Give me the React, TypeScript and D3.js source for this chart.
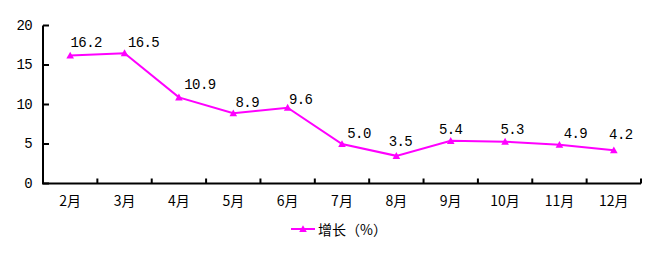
import React from "react";
import * as d3 from "d3";

const categories = ["2月", "3月", "4月", "5月", "6月", "7月", "8月", "9月", "10月", "11月", "12月"];
const values = [16.2, 16.5, 10.9, 8.9, 9.6, 5.0, 3.5, 5.4, 5.3, 4.9, 4.2];
const valueLabels = ["16.2", "16.5", "10.9", "8.9", "9.6", "5.0", "3.5", "5.4", "5.3", "4.9", "4.2"];
const yTicks = [0, 5, 10, 15, 20];
const seriesName = "增长（%）";
// label offsets relative to points (manually placed labels in the original)
const labelDx = [16, 19, 21, 14, 13, 17, 4, 0, 7, 16, 7];
const labelDy = [12.5, 10, 12.4, 10, 7.7, 10, 14, 11, 11.6, 10.5, 15];

const W = 660, H = 253;
const M = { left: 43, right: 641, top: 25.5, bottom: 183.5 };
const COLOR = "#FF00FF";
const MONO = "'Liberation Mono', 'DejaVu Sans Mono', monospace";
const CJK = "'Noto Sans CJK SC', sans-serif";

function tri(cx: number, cy: number, s = 3.8) {
  return `M${cx},${cy - s} L${cx + s},${cy + s * 0.8} L${cx - s},${cy + s * 0.8} Z`;
}

export default function App() {
  const x = d3.scaleBand<string>().domain(categories).range([M.left, M.right]).padding(0);
  const y = d3.scaleLinear().domain([0, 20]).range([M.bottom, M.top]);
  const cx = (c: string) => (x(c) as number) + x.bandwidth() / 2;
  const line = d3.line<number>().x((_, i) => cx(categories[i])).y((v) => y(v));
  const bandEdges = categories.map((c) => x(c) as number).concat([M.right]);

  return (
    <svg width={W} height={H} style={{ position: "absolute", left: 0, top: 0, background: "#fff" }}>
      <rect width={W} height={H} fill="#fff" />
      {/* axes */}
      <line x1={M.left} x2={M.left} y1={M.top} y2={M.bottom} stroke="#000" strokeWidth={2} />
      <line x1={M.left - 1} x2={M.right} y1={M.bottom} y2={M.bottom} stroke="#000" strokeWidth={2} />
      {yTicks.map((t) => (
        <g key={t}>
          <line x1={M.left} x2={M.left + 6} y1={y(t)} y2={y(t)} stroke="#000" strokeWidth={2} />
          <text x={32} y={y(t)} textAnchor="end" dominantBaseline="central" fontFamily={MONO} fontSize={14} letterSpacing={-0.6} fill="#000">
            {t}
          </text>
        </g>
      ))}
      {bandEdges.map((e, i) => (
        <line key={i} x1={e} x2={e} y1={M.bottom} y2={M.bottom - 5} stroke="#000" strokeWidth={2} />
      ))}
      {categories.map((c) => (
        <text key={c} x={cx(c)} y={200} textAnchor="middle" dominantBaseline="central" fontFamily={CJK} fontSize={14} fill="#000">
          {c}
        </text>
      ))}
      {/* series */}
      <path d={line(values) as string} fill="none" stroke={COLOR} strokeWidth={2} />
      {values.map((v, i) => (
        <path key={i} d={tri(cx(categories[i]), y(v))} fill={COLOR} />
      ))}
      {values.map((v, i) => (
        <text
          key={"l" + i}
          x={cx(categories[i]) + labelDx[i]}
          y={y(v) - labelDy[i]}
          textAnchor="middle"
          dominantBaseline="central"
          fontFamily={MONO}
          fontSize={14}
          letterSpacing={-0.6}
          fill="#000"
        >
          {valueLabels[i]}
        </text>
      ))}
      {/* legend */}
      <line x1={291} x2={315} y1={229} y2={229} stroke={COLOR} strokeWidth={2} />
      <path d={tri(303, 229)} fill={COLOR} />
      <text x={318} y={229} dominantBaseline="central" fontFamily={CJK} fontSize={14} fill="#000">
        {seriesName}
      </text>
    </svg>
  );
}
